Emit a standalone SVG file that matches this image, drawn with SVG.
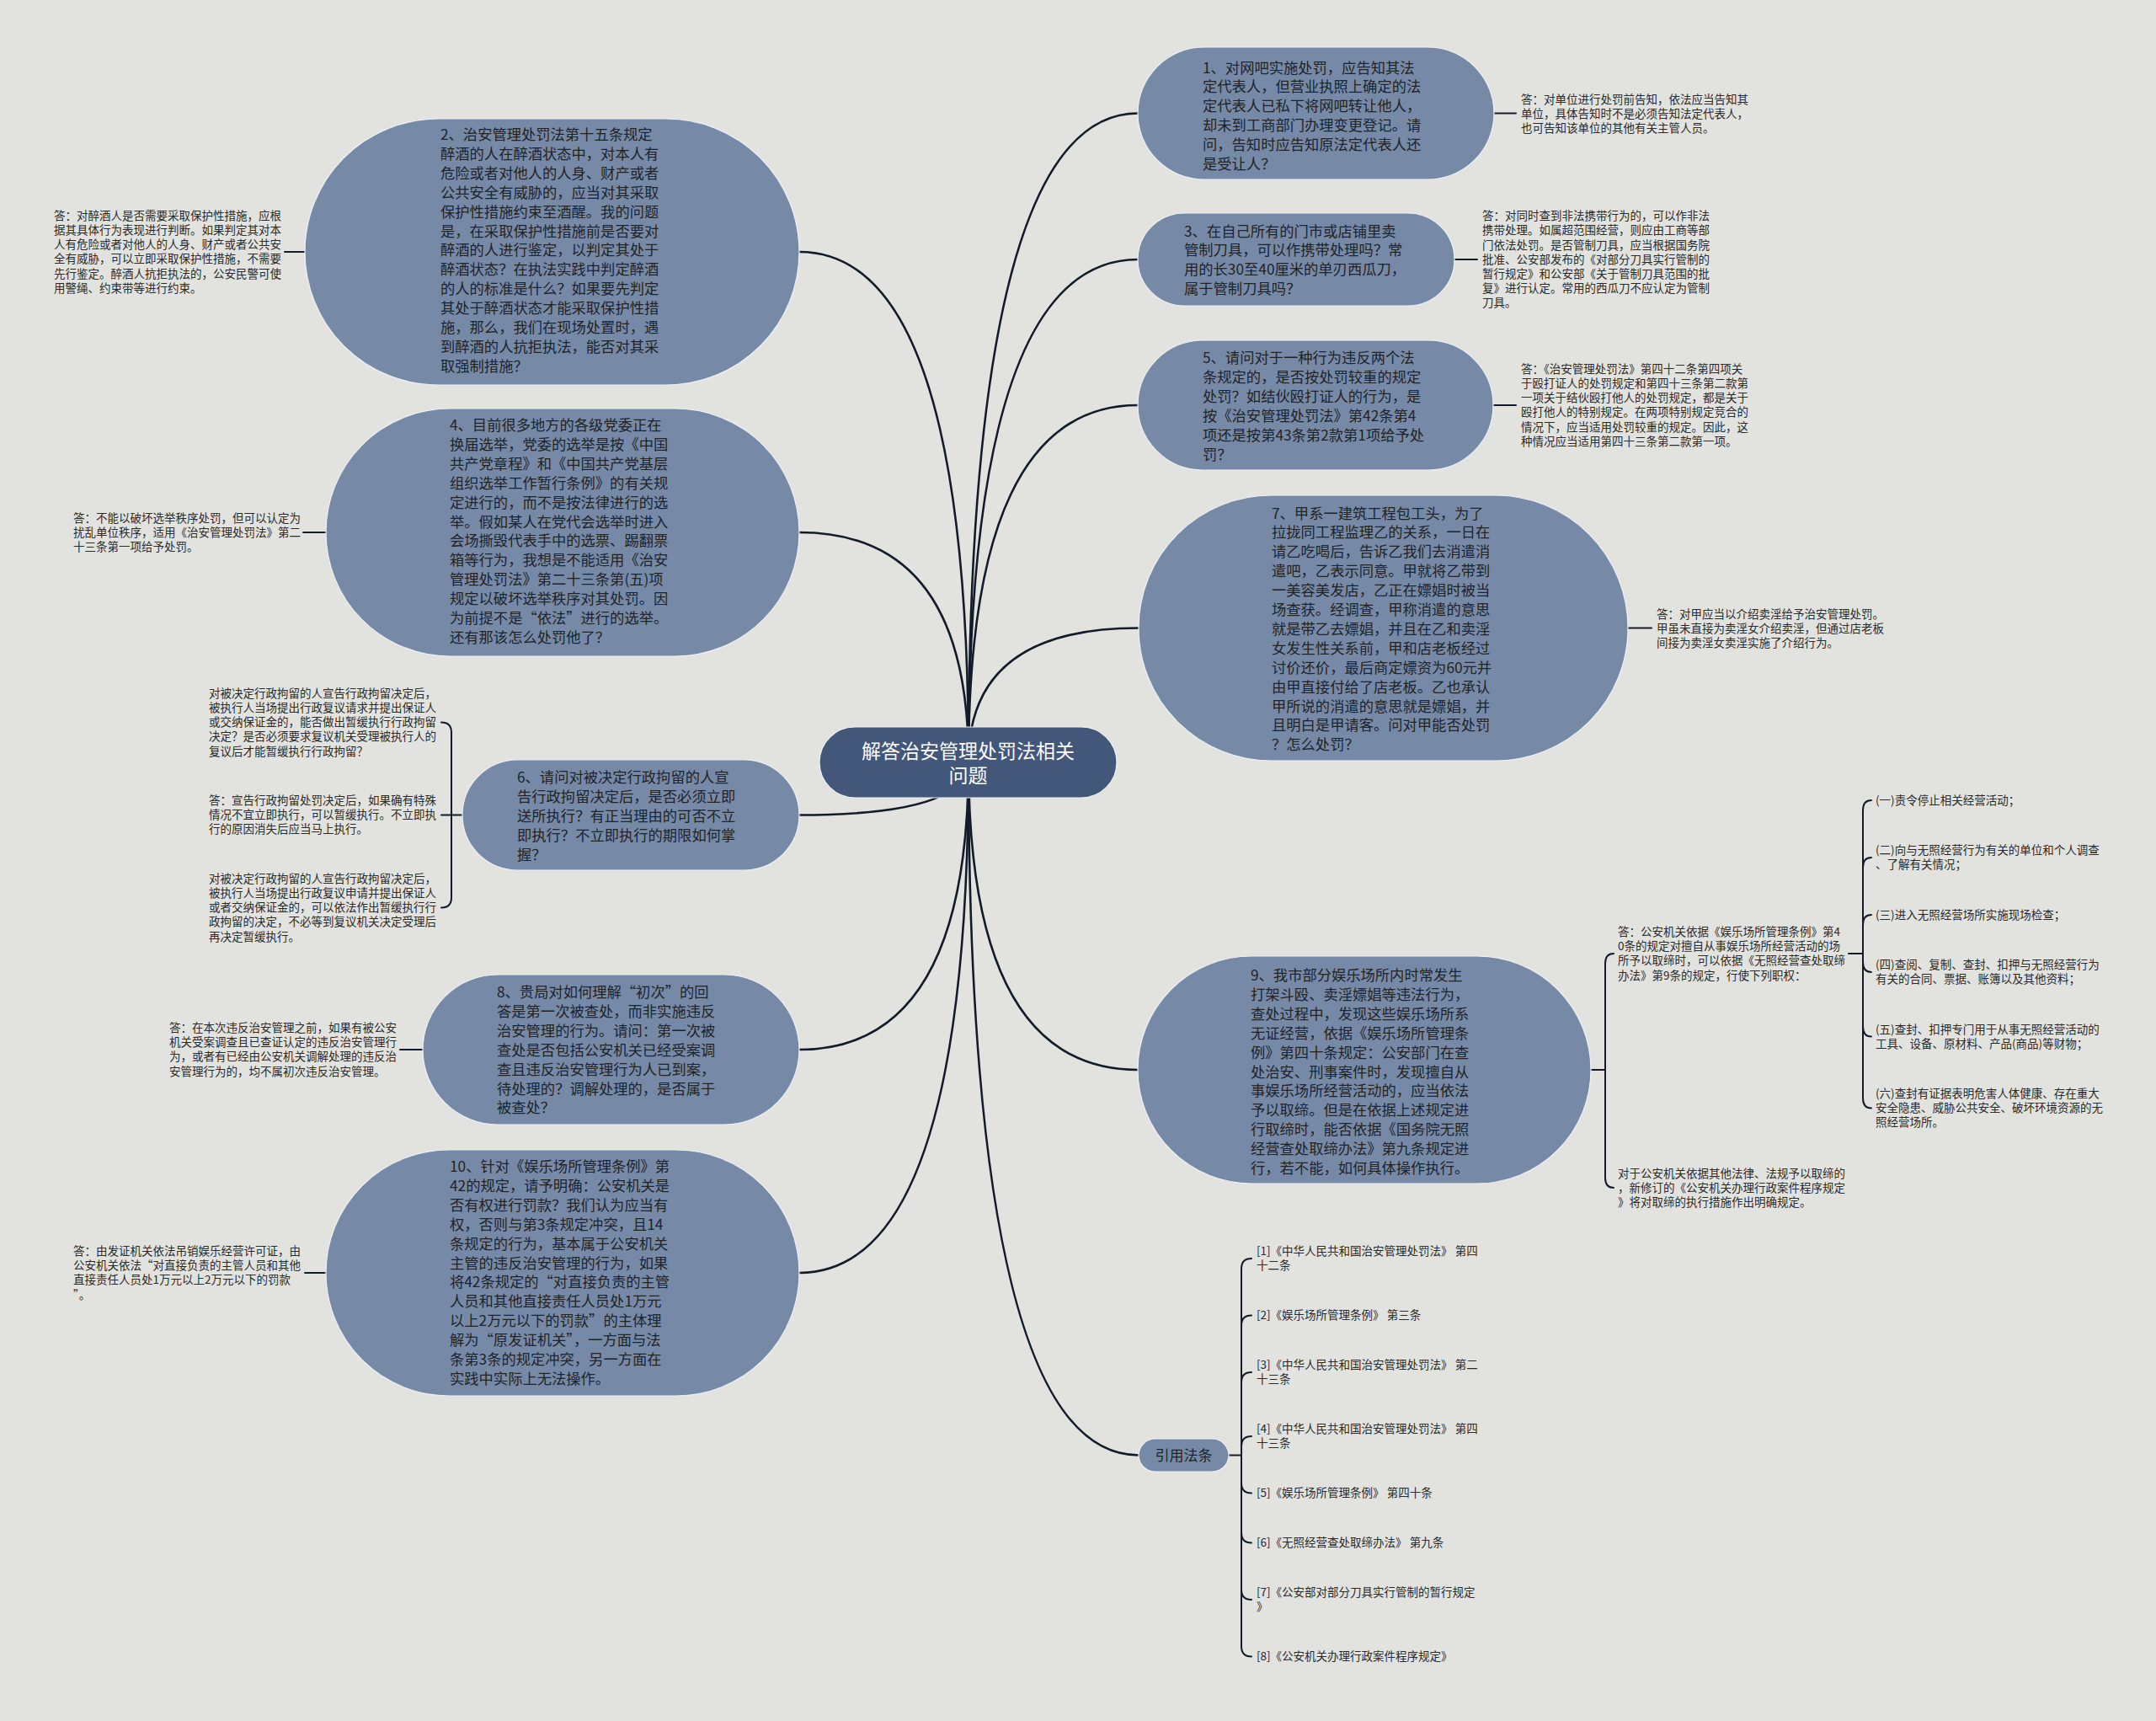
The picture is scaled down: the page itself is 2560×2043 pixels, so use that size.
<svg xmlns="http://www.w3.org/2000/svg" width="2560" height="2043" viewBox="0 0 2560 2043">
<style>
.bg{fill:#e2e3de}
.node{fill:#768aa8;stroke:#eef1f5;stroke-width:1.2}
.root{fill:#43577a;stroke:#eef1f5;stroke-width:1.2}
.t{font-family:"Noto Sans CJK SC","Noto Sans",sans-serif;font-size:17.3px;fill:#202327}
.s{font-family:"Noto Sans CJK SC","Noto Sans",sans-serif;font-size:13.5px;fill:#2a2a2a}
.rt{font-family:"Noto Sans CJK SC","Noto Sans",sans-serif;font-size:23px;fill:#ffffff;text-anchor:middle}
.main{fill:none;stroke:#121b29;stroke-width:2.6;stroke-linecap:round}
.ln{fill:none;stroke:#121b29;stroke-width:2;stroke-linecap:round}
</style>
<rect class="bg" x="0" y="0" width="2560" height="2043"/>

<g id="connectors">
  <path class="main" d="M1150 904 Q1150 134.5 1351 134.5"/>
  <path class="main" d="M1150 904 Q1150 308 1351 308"/>
  <path class="main" d="M1150 904 Q1150 481 1351 481"/>
  <path class="main" d="M1150 904 Q1150 745.5 1352 745.5"/>
  <path class="main" d="M1150 904 Q1150 1270 1351 1270"/>
  <path class="main" d="M1150 904 Q1150 1727.5 1352 1727.5"/>
  <path class="main" d="M1150 904 Q1150 299 949 299"/>
  <path class="main" d="M1150 904 Q1150 632 949 632"/>
  <path class="main" d="M1150 904 Q1150 967.5 949 967.5"/>
  <path class="main" d="M1150 904 Q1150 1246 949 1246"/>
  <path class="main" d="M1150 904 Q1150 1511 949 1511"/>
  <path class="ln" d="M1774 134.5 H1800"/>
  <path class="ln" d="M1727 308 H1754"/>
  <path class="ln" d="M1773 481 H1800"/>
  <path class="ln" d="M1933 745.5 H1961"/>
  <path class="ln" d="M362 299 H338"/>
  <path class="ln" d="M387 632 H360"/>
  <path class="ln" d="M502 1246 H475"/>
  <path class="ln" d="M387 1511 H362"/>
  <path class="ln" d="M549 967.5 H536 M536 967.5 V869.5 Q536 857.5 524 857.5 M536 967.5 H524 M536 967.5 V1065.5 Q536 1077.5 524 1077.5"/>
  <path class="ln" d="M1889 1270 H1906 M1906 1270 V1144 Q1906 1132 1916 1132 M1906 1270 V1398 Q1906 1410 1916 1410"/>
  <path class="ln" d="M2195 1132 H2212 M2212 1132 V962 Q2212 950 2222 950 M2212 1132 V1030 Q2212 1018 2222 1018 M2212 1132 V1098 Q2212 1086 2222 1086 M2212 1132 V1142 Q2212 1154 2222 1154 M2212 1132 V1218.5 Q2212 1230.5 2222 1230.5 M2212 1132 V1303.5 Q2212 1315.5 2222 1315.5"/>
  <path class="ln" d="M1459 1727.5 H1474 M1474 1727.5 V1506 Q1474 1494 1486 1494 M1474 1727.5 V1573.5 Q1474 1561.5 1486 1561.5 M1474 1727.5 V1641 Q1474 1629 1486 1629 M1474 1727.5 V1717 Q1474 1705 1486 1705 M1474 1727.5 V1760.5 Q1474 1772.5 1486 1772.5 M1474 1727.5 V1819.5 Q1474 1831.5 1486 1831.5 M1474 1727.5 V1887 Q1474 1899 1486 1899 M1474 1727.5 V1954.5 Q1474 1966.5 1486 1966.5"/>
</g>

<g id="root">
  <rect class="root" x="973" y="863" width="353" height="84" rx="42"/>
  <text class="rt"><tspan x="1149.5" y="900">解答治安管理处罚法相关</tspan><tspan x="1149.5" dy="29">问题</tspan></text>
</g>

<g id="n1">
  <rect class="node" x="1351" y="56" width="423" height="157" rx="78.5"/>
  <text class="t"><tspan x="1428" y="86.5">1、对网吧实施处罚，应告知其法</tspan><tspan x="1428" dy="22.9">定代表人，但营业执照上确定的法</tspan><tspan x="1428" dy="22.9">定代表人已私下将网吧转让他人，</tspan><tspan x="1428" dy="22.9">却未到工商部门办理变更登记。请</tspan><tspan x="1428" dy="22.9">问，告知时应告知原法定代表人还</tspan><tspan x="1428" dy="22.9">是受让人？</tspan></text>
</g>
<g id="a1">
  <text class="s"><tspan x="1806" y="123">答：对单位进行处罚前告知，依法应当告知其</tspan><tspan x="1806" dy="17.2">单位，具体告知时不是必须告知法定代表人，</tspan><tspan x="1806" dy="17.2">也可告知该单位的其他有关主管人员。</tspan></text>
</g>

<g id="n3">
  <rect class="node" x="1351" y="253" width="376" height="110" rx="55"/>
  <text class="t"><tspan x="1406" y="280.5">3、在自己所有的门市或店铺里卖</tspan><tspan x="1406" dy="22.9">管制刀具，可以作携带处理吗？常</tspan><tspan x="1406" dy="22.9">用的长30至40厘米的单刃西瓜刀，</tspan><tspan x="1406" dy="22.9">属于管制刀具吗？</tspan></text>
</g>
<g id="a3">
  <text class="s"><tspan x="1760" y="261.1">答：对同时查到非法携带行为的，可以作非法</tspan><tspan x="1760" dy="17.2">携带处理。如属超范围经营，则应由工商等部</tspan><tspan x="1760" dy="17.2">门依法处罚。是否管制刀具，应当根据国务院</tspan><tspan x="1760" dy="17.2">批准、公安部发布的《对部分刀具实行管制的</tspan><tspan x="1760" dy="17.2">暂行规定》和公安部《关于管制刀具范围的批</tspan><tspan x="1760" dy="17.2">复》进行认定。常用的西瓜刀不应认定为管制</tspan><tspan x="1760" dy="17.2">刀具。</tspan></text>
</g>

<g id="n5">
  <rect class="node" x="1351" y="404" width="422" height="154" rx="77"/>
  <text class="t"><tspan x="1428" y="431">5、请问对于一种行为违反两个法</tspan><tspan x="1428" dy="22.9">条规定的，是否按处罚较重的规定</tspan><tspan x="1428" dy="22.9">处罚？如结伙殴打证人的行为，是</tspan><tspan x="1428" dy="22.9">按《治安管理处罚法》第42条第4</tspan><tspan x="1428" dy="22.9">项还是按第43条第2款第1项给予处</tspan><tspan x="1428" dy="22.9">罚？</tspan></text>
</g>
<g id="a5">
  <text class="s"><tspan x="1806" y="442.7">答：《治安管理处罚法》第四十二条第四项关</tspan><tspan x="1806" dy="17.2">于殴打证人的处罚规定和第四十三条第二款第</tspan><tspan x="1806" dy="17.2">一项关于结伙殴打他人的处罚规定，都是关于</tspan><tspan x="1806" dy="17.2">殴打他人的特别规定。在两项特别规定竞合的</tspan><tspan x="1806" dy="17.2">情况下，应当适用处罚较重的规定。因此，这</tspan><tspan x="1806" dy="17.2">种情况应当适用第四十三条第二款第一项。</tspan></text>
</g>

<g id="n7">
  <rect class="node" x="1352" y="588" width="581" height="315" rx="157.5"/>
  <text class="t"><tspan x="1510" y="615.5">7、甲系一建筑工程包工头，为了</tspan><tspan x="1510" dy="22.9">拉拢同工程监理乙的关系，一日在</tspan><tspan x="1510" dy="22.9">请乙吃喝后，告诉乙我们去消遣消</tspan><tspan x="1510" dy="22.9">遣吧，乙表示同意。甲就将乙带到</tspan><tspan x="1510" dy="22.9">一美容美发店，乙正在嫖娼时被当</tspan><tspan x="1510" dy="22.9">场查获。经调查，甲称消遣的意思</tspan><tspan x="1510" dy="22.9">就是带乙去嫖娼，并且在乙和卖淫</tspan><tspan x="1510" dy="22.9">女发生性关系前，甲和店老板经过</tspan><tspan x="1510" dy="22.9">讨价还价，最后商定嫖资为60元并</tspan><tspan x="1510" dy="22.9">由甲直接付给了店老板。乙也承认</tspan><tspan x="1510" dy="22.9">甲所说的消遣的意思就是嫖娼，并</tspan><tspan x="1510" dy="22.9">且明白是甲请客。问对甲能否处罚</tspan><tspan x="1510" dy="22.9">？怎么处罚？</tspan></text>
</g>
<g id="a7">
  <text class="s"><tspan x="1967" y="733.5">答：对甲应当以介绍卖淫给予治安管理处罚。</tspan><tspan x="1967" dy="17.2">甲虽未直接为卖淫女介绍卖淫，但通过店老板</tspan><tspan x="1967" dy="17.2">间接为卖淫女卖淫实施了介绍行为。</tspan></text>
</g>

<g id="n9">
  <rect class="node" x="1351" y="1135" width="538" height="270" rx="135"/>
  <text class="t"><tspan x="1485" y="1164">9、我市部分娱乐场所内时常发生</tspan><tspan x="1485" dy="22.9">打架斗殴、卖淫嫖娼等违法行为，</tspan><tspan x="1485" dy="22.9">查处过程中，发现这些娱乐场所系</tspan><tspan x="1485" dy="22.9">无证经营，依据《娱乐场所管理条</tspan><tspan x="1485" dy="22.9">例》第四十条规定：公安部门在查</tspan><tspan x="1485" dy="22.9">处治安、刑事案件时，发现擅自从</tspan><tspan x="1485" dy="22.9">事娱乐场所经营活动的，应当依法</tspan><tspan x="1485" dy="22.9">予以取缔。但是在依据上述规定进</tspan><tspan x="1485" dy="22.9">行取缔时，能否依据《国务院无照</tspan><tspan x="1485" dy="22.9">经营查处取缔办法》第九条规定进</tspan><tspan x="1485" dy="22.9">行，若不能，如何具体操作执行。</tspan></text>
</g>
<g id="a9a">
  <text class="s"><tspan x="1921" y="1110.9">答：公安机关依据《娱乐场所管理条例》第4</tspan><tspan x="1921" dy="17.2">0条的规定对擅自从事娱乐场所经营活动的场</tspan><tspan x="1921" dy="17.2">所予以取缔时，可以依据《无照经营查处取缔</tspan><tspan x="1921" dy="17.2">办法》第9条的规定，行使下列职权：</tspan></text>
</g>
<g id="a9b">
  <text class="s"><tspan x="1921" y="1397.5">对于公安机关依据其他法律、法规予以取缔的</tspan><tspan x="1921" dy="17.2">，新修订的《公安机关办理行政案件程序规定</tspan><tspan x="1921" dy="17.2">》将对取缔的执行措施作出明确规定。</tspan></text>
</g>
<g id="p1"><text class="s"><tspan x="2227" y="954.7">(一)责令停止相关经营活动；</tspan></text></g>
<g id="p2"><text class="s"><tspan x="2227" y="1014.1">(二)向与无照经营行为有关的单位和个人调查</tspan><tspan x="2227" dy="17.2">、了解有关情况；</tspan></text></g>
<g id="p3"><text class="s"><tspan x="2227" y="1090.7">(三)进入无照经营场所实施现场检查；</tspan></text></g>
<g id="p4"><text class="s"><tspan x="2227" y="1150.1">(四)查阅、复制、查封、扣押与无照经营行为</tspan><tspan x="2227" dy="17.2">有关的合同、票据、账簿以及其他资料；</tspan></text></g>
<g id="p5"><text class="s"><tspan x="2227" y="1226.6">(五)查封、扣押专门用于从事无照经营活动的</tspan><tspan x="2227" dy="17.2">工具、设备、原材料、产品(商品)等财物；</tspan></text></g>
<g id="p6"><text class="s"><tspan x="2227" y="1303">(六)查封有证据表明危害人体健康、存在重大</tspan><tspan x="2227" dy="17.2">安全隐患、威胁公共安全、破坏环境资源的无</tspan><tspan x="2227" dy="17.2">照经营场所。</tspan></text></g>

<g id="refs">
  <rect class="node" x="1352" y="1708" width="107" height="39" rx="19.5"/>
  <text class="t" x="1405.5" y="1733.5" text-anchor="middle" style="font-size:17px">引用法条</text>
</g>
<g id="r1"><text class="s"><tspan x="1492" y="1490.1">[1]《中华人民共和国治安管理处罚法》 第四</tspan><tspan x="1492" dy="17.2">十二条</tspan></text></g>
<g id="r2"><text class="s"><tspan x="1492" y="1566.2">[2]《娱乐场所管理条例》 第三条</tspan></text></g>
<g id="r3"><text class="s"><tspan x="1492" y="1625.1">[3]《中华人民共和国治安管理处罚法》 第二</tspan><tspan x="1492" dy="17.2">十三条</tspan></text></g>
<g id="r4"><text class="s"><tspan x="1492" y="1701.1">[4]《中华人民共和国治安管理处罚法》 第四</tspan><tspan x="1492" dy="17.2">十三条</tspan></text></g>
<g id="r5"><text class="s"><tspan x="1492" y="1777.2">[5]《娱乐场所管理条例》 第四十条</tspan></text></g>
<g id="r6"><text class="s"><tspan x="1492" y="1836.2">[6]《无照经营查处取缔办法》 第九条</tspan></text></g>
<g id="r7"><text class="s"><tspan x="1492" y="1895.1">[7]《公安部对部分刀具实行管制的暂行规定</tspan><tspan x="1492" dy="17.2">》</tspan></text></g>
<g id="r8"><text class="s"><tspan x="1492" y="1971.2">[8]《公安机关办理行政案件程序规定》</tspan></text></g>

<g id="n2">
  <rect class="node" x="362" y="141" width="587" height="316" rx="158"/>
  <text class="t"><tspan x="523" y="166">2、治安管理处罚法第十五条规定</tspan><tspan x="523" dy="22.9">醉酒的人在醉酒状态中，对本人有</tspan><tspan x="523" dy="22.9">危险或者对他人的人身、财产或者</tspan><tspan x="523" dy="22.9">公共安全有威胁的，应当对其采取</tspan><tspan x="523" dy="22.9">保护性措施约束至酒醒。我的问题</tspan><tspan x="523" dy="22.9">是，在采取保护性措施前是否要对</tspan><tspan x="523" dy="22.9">醉酒的人进行鉴定，以判定其处于</tspan><tspan x="523" dy="22.9">醉酒状态？在执法实践中判定醉酒</tspan><tspan x="523" dy="22.9">的人的标准是什么？如果要先判定</tspan><tspan x="523" dy="22.9">其处于醉酒状态才能采取保护性措</tspan><tspan x="523" dy="22.9">施，那么，我们在现场处置时，遇</tspan><tspan x="523" dy="22.9">到醉酒的人抗拒执法，能否对其采</tspan><tspan x="523" dy="22.9">取强制措施？</tspan></text>
</g>
<g id="a2">
  <text class="s"><tspan x="64" y="260.7">答：对醉酒人是否需要采取保护性措施，应根</tspan><tspan x="64" dy="17.2">据其具体行为表现进行判断。如果判定其对本</tspan><tspan x="64" dy="17.2">人有危险或者对他人的人身、财产或者公共安</tspan><tspan x="64" dy="17.2">全有威胁，可以立即采取保护性措施，不需要</tspan><tspan x="64" dy="17.2">先行鉴定。醉酒人抗拒执法的，公安民警可使</tspan><tspan x="64" dy="17.2">用警绳、约束带等进行约束。</tspan></text>
</g>

<g id="n4">
  <rect class="node" x="387" y="485" width="562" height="294" rx="147"/>
  <text class="t"><tspan x="534" y="511">4、目前很多地方的各级党委正在</tspan><tspan x="534" dy="22.9">换届选举，党委的选举是按《中国</tspan><tspan x="534" dy="22.9">共产党章程》和《中国共产党基层</tspan><tspan x="534" dy="22.9">组织选举工作暂行条例》的有关规</tspan><tspan x="534" dy="22.9">定进行的，而不是按法律进行的选</tspan><tspan x="534" dy="22.9">举。假如某人在党代会选举时进入</tspan><tspan x="534" dy="22.9">会场撕毁代表手中的选票、踢翻票</tspan><tspan x="534" dy="22.9">箱等行为，我想是不能适用《治安</tspan><tspan x="534" dy="22.9">管理处罚法》第二十三条第(五)项</tspan><tspan x="534" dy="22.9">规定以破坏选举秩序对其处罚。因</tspan><tspan x="534" dy="22.9">为前提不是“依法”进行的选举。</tspan><tspan x="534" dy="22.9">还有那该怎么处罚他了？</tspan></text>
</g>
<g id="a4">
  <text class="s"><tspan x="87" y="619.5">答：不能以破坏选举秩序处罚，但可以认定为</tspan><tspan x="87" dy="17.2">扰乱单位秩序，适用《治安管理处罚法》第二</tspan><tspan x="87" dy="17.2">十三条第一项给予处罚。</tspan></text>
</g>

<g id="n6">
  <rect class="node" x="549" y="902" width="400" height="131" rx="65.5"/>
  <text class="t"><tspan x="614" y="929">6、请问对被决定行政拘留的人宣</tspan><tspan x="614" dy="22.9">告行政拘留决定后，是否必须立即</tspan><tspan x="614" dy="22.9">送所执行？有正当理由的可否不立</tspan><tspan x="614" dy="22.9">即执行？不立即执行的期限如何掌</tspan><tspan x="614" dy="22.9">握？</tspan></text>
</g>
<g id="a6a">
  <text class="s"><tspan x="248" y="827.8">对被决定行政拘留的人宣告行政拘留决定后，</tspan><tspan x="248" dy="17.2">被执行人当场提出行政复议请求并提出保证人</tspan><tspan x="248" dy="17.2">或交纳保证金的，能否做出暂缓执行行政拘留</tspan><tspan x="248" dy="17.2">决定？是否必须要求复议机关受理被执行人的</tspan><tspan x="248" dy="17.2">复议后才能暂缓执行行政拘留？</tspan></text>
</g>
<g id="a6b">
  <text class="s"><tspan x="248" y="955">答：宣告行政拘留处罚决定后，如果确有特殊</tspan><tspan x="248" dy="17.2">情况不宜立即执行，可以暂缓执行。不立即执</tspan><tspan x="248" dy="17.2">行的原因消失后应当马上执行。</tspan></text>
</g>
<g id="a6c">
  <text class="s"><tspan x="248" y="1047.8">对被决定行政拘留的人宣告行政拘留决定后，</tspan><tspan x="248" dy="17.2">被执行人当场提出行政复议申请并提出保证人</tspan><tspan x="248" dy="17.2">或者交纳保证金的，可以依法作出暂缓执行行</tspan><tspan x="248" dy="17.2">政拘留的决定，不必等到复议机关决定受理后</tspan><tspan x="248" dy="17.2">再决定暂缓执行。</tspan></text>
</g>

<g id="n8">
  <rect class="node" x="502" y="1157" width="447" height="178" rx="89"/>
  <text class="t"><tspan x="590" y="1184">8、贵局对如何理解“初次”的回</tspan><tspan x="590" dy="22.9">答是第一次被查处，而非实施违反</tspan><tspan x="590" dy="22.9">治安管理的行为。请问：第一次被</tspan><tspan x="590" dy="22.9">查处是否包括公安机关已经受案调</tspan><tspan x="590" dy="22.9">查且违反治安管理行为人已到案，</tspan><tspan x="590" dy="22.9">待处理的？调解处理的，是否属于</tspan><tspan x="590" dy="22.9">被查处？</tspan></text>
</g>
<g id="a8">
  <text class="s"><tspan x="201" y="1224.9">答：在本次违反治安管理之前，如果有被公安</tspan><tspan x="201" dy="17.2">机关受案调查且已查证认定的违反治安管理行</tspan><tspan x="201" dy="17.2">为，或者有已经由公安机关调解处理的违反治</tspan><tspan x="201" dy="17.2">安管理行为的，均不属初次违反治安管理。</tspan></text>
</g>

<g id="n10">
  <rect class="node" x="387" y="1365" width="562" height="292" rx="146"/>
  <text class="t"><tspan x="534" y="1391">10、针对《娱乐场所管理条例》第</tspan><tspan x="534" dy="22.9">42的规定，请予明确：公安机关是</tspan><tspan x="534" dy="22.9">否有权进行罚款？我们认为应当有</tspan><tspan x="534" dy="22.9">权，否则与第3条规定冲突，且14</tspan><tspan x="534" dy="22.9">条规定的行为，基本属于公安机关</tspan><tspan x="534" dy="22.9">主管的违反治安管理的行为，如果</tspan><tspan x="534" dy="22.9">将42条规定的“对直接负责的主管</tspan><tspan x="534" dy="22.9">人员和其他直接责任人员处1万元</tspan><tspan x="534" dy="22.9">以上2万元以下的罚款”的主体理</tspan><tspan x="534" dy="22.9">解为“原发证机关”，一方面与法</tspan><tspan x="534" dy="22.9">条第3条的规定冲突，另一方面在</tspan><tspan x="534" dy="22.9">实践中实际上无法操作。</tspan></text>
</g>
<g id="a10">
  <text class="s"><tspan x="87" y="1489.9">答：由发证机关依法吊销娱乐经营许可证，由</tspan><tspan x="87" dy="17.2">公安机关依法“对直接负责的主管人员和其他</tspan><tspan x="87" dy="17.2">直接责任人员处1万元以上2万元以下的罚款</tspan><tspan x="87" dy="17.2">”。</tspan></text>
</g>
</svg>
